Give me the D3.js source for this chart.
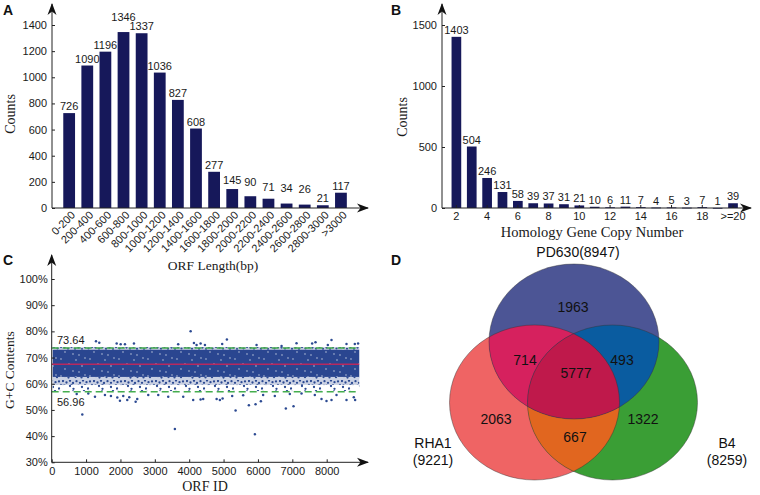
<!DOCTYPE html>
<html><head><meta charset="utf-8">
<script src="https://cdn.jsdelivr.net/npm/d3@7"></script>
<style>body{margin:0;background:#fff}svg{display:block}</style>
</head><body><svg id="c" width="760" height="495"></svg>
<script>
// ---------- DATA ----------
const orfCats = ["0-200","200-400","400-600","600-800","800-1000","1000-1200","1200-1400","1400-1600","1600-1800","1800-2000","2000-2200","2200-2400","2400-2600","2600-2800","2800-3000",">3000"];
const orfCounts = [726,1090,1196,1346,1337,1036,827,608,277,145,90,71,34,26,21,117];
const orfYTicks = [0,200,400,600,800,1000,1200,1400];

const copyCats = ["2","3","4","5","6","7","8","9","10","11","12","13","14","15","16","17","18","19",">=20"];
const copyCounts = [1403,504,246,131,58,39,37,31,21,10,6,11,7,4,5,3,7,1,39];
const copyXTicks = ["2","4","6","8","10","12","14","16","18",">=20"];
const copyYTicks = [0,500,1000,1500];

const gcYTicks = [30,40,50,60,70,80,90,100];
const gcXTicks = [0,1000,2000,3000,4000,5000,6000,7000,8000];
const orfTotal = 8947;
const gcUpper = 73.64, gcLower = 56.96, gcMean = 67.4;
// dense point cloud summarised as G+C bands [low, high, density]
const gcBands = [[57.2,59.6,"sparse"],[59.6,62.6,"medium"],[62.6,73.0,"dense"],[73.0,74.0,"medium"]];
// individual points outside the dense cloud [ORF id, G+C %]
const gcOutliers = [
 [4041,80.0],[1288,76.2],[1384,75.7],[1890,75.4],[2006,75.1],[2131,75.1],[2393,75.4],[3680,75.1],[4137,75.6],[4215,74.8],
 [4331,75.4],[4457,74.8],[4960,75.2],[5096,76.9],[5959,74.8],[6686,74.4],[7122,75.5],[7576,75.4],[7674,75.8],[8032,74.8],
 [8140,76.7],[8576,75.2],[8817,75.2],[8913,75.4],
 [727,56.1],[890,48.3],[1064,56.3],[1259,55.0],[1549,55.7],[1724,55.3],[1908,54.7],[1985,53.5],[2081,55.3],[2198,53.8],
 [2256,54.8],[2442,53.1],[2488,54.2],[2808,55.7],[3099,55.7],[3390,55.0],[3584,42.7],[3826,55.0],[4116,53.8],[4331,54.0],
 [4407,54.2],[4797,54.2],[4893,53.8],[4971,54.4],[5250,55.3],[5349,49.8],[5570,55.6],[5736,51.8],[5910,40.7],[5930,52.2],
 [6085,53.3],[6151,55.7],[6491,55.3],[6811,50.5],[6927,56.1],[7035,51.4],[7267,56.3],[7654,55.7],[7849,54.2],[7994,53.4],
 [8140,53.8],[8285,55.7],[8576,53.8],[8788,54.8],[8826,53.8]
];

const vennSets = [["PD630",8947],["RHA1",9221],["B4",8259]];
const vennRegions = [["P",1963],["PR",714],["PB",493],["PRB",5777],["R",2063],["B",1322],["RB",667]];

// ---------- DRAWING ----------
const svg = d3.select("#c");
const defs = svg.append("defs");
const SANS = "'Liberation Sans', Arial, sans-serif";
const SERIF = "'Liberation Serif', 'Times New Roman', serif";
const INK = "#1a1a1a";
const BAR = "#16185a";
const plain = d3.format("d");

defs.append("marker").attr("id","arr").attr("viewBox","0 -5 12 10")
  .attr("refX",11).attr("refY",0).attr("markerWidth",12).attr("markerHeight",10)
  .attr("markerUnits","userSpaceOnUse").attr("orient","auto")
  .append("path").attr("d","M0,-4.5L12,0L0,4.5L3.5,0Z").attr("fill","#111");

function arrowLine(x1,y1,x2,y2){
  svg.append("line").attr("x1",x1).attr("y1",y1).attr("x2",x2).attr("y2",y2)
    .attr("stroke","#222").attr("stroke-width",1).attr("marker-end","url(#arr)");
}
function styleAxis(g){
  g.select(".domain").remove();
  g.selectAll(".tick line").attr("stroke","#222");
  g.selectAll("text").attr("font-family",SANS).attr("font-size",11).attr("fill",INK);
}
function panelLetter(t,x,y){
  svg.append("text").attr("x",x).attr("y",y).text(t).attr("font-family",SANS)
    .attr("font-weight","bold").attr("font-size",14).attr("fill","#111");
}
function title(t,x,y,rot,size){
  const el = svg.append("text").text(t).attr("font-family",SERIF).attr("font-size",size||14)
    .attr("fill",INK).attr("text-anchor","middle");
  if(rot) el.attr("transform",`translate(${x},${y}) rotate(-90)`).attr("dy","0.35em");
  else el.attr("x",x).attr("y",y);
}

// ===== Panel A =====
(function(){
  const x0=52, y0=208;
  const x = d3.scaleBand().domain(orfCats).range([60.1,350]).paddingInner(0.35).paddingOuter(0.175);
  const y = d3.scaleLinear().domain([0,1400]).range([y0,25]);
  const g = svg.append("g");
  g.selectAll("rect").data(orfCounts).join("rect")
    .attr("x",(d,i)=>x(orfCats[i])).attr("width",x.bandwidth())
    .attr("y",d=>y(d)).attr("height",d=>y0-y(d)).attr("fill",BAR);
  const base = orfCounts.map(d=>y(d)-3);
  for(let i=1;i<base.length;i++){
    if(Math.abs(base[i]-base[i-1])<9){
      if(orfCounts[i]>orfCounts[i-1]) base[i]=base[i-1]-9.5; else base[i-1]=base[i]-9.5;
    }
  }
  g.selectAll("text.v").data(orfCounts).join("text").attr("class","v")
    .attr("x",(d,i)=>x(orfCats[i])+x.bandwidth()/2).attr("y",(d,i)=>base[i])
    .attr("text-anchor","middle").attr("font-family",SANS).attr("font-size",11).attr("fill",INK)
    .text(d=>d);
  const ya = svg.append("g").attr("transform",`translate(${x0},0)`)
    .call(d3.axisLeft(y).tickValues(orfYTicks).tickSize(-3).tickPadding(5).tickFormat(plain));
  styleAxis(ya);
  g.selectAll("text.c").data(orfCats).join("text").attr("class","c")
    .attr("transform",d=>`translate(${x(d)+x.bandwidth()/2+4},${y0+5}) rotate(-45)`)
    .attr("text-anchor","end").attr("dy","0.35em")
    .attr("font-family",SANS).attr("font-size",11).attr("fill",INK).text(d=>d);
  arrowLine(x0,y0,x0,4);
  arrowLine(x0,y0,368,y0);
  title("Counts",10,114,true,14);
  title("ORF Length(bp)",213,270,false,13.5);
  panelLetter("A",3,15);
})();

// ===== Panel B =====
(function(){
  const x0=442, y0=208;
  const x = d3.scaleBand().domain(copyCats).range([448.7,740.7]).paddingInner(0.37).paddingOuter(0.185);
  const y = d3.scaleLinear().domain([0,1500]).range([y0,25]);
  const g = svg.append("g");
  g.selectAll("rect").data(copyCounts).join("rect")
    .attr("x",(d,i)=>x(copyCats[i])).attr("width",x.bandwidth())
    .attr("y",d=>y(d)).attr("height",d=>Math.max(0.8,y0-y(d))).attr("fill",BAR);
  g.selectAll("text.v").data(copyCounts).join("text").attr("class","v")
    .attr("x",(d,i)=>x(copyCats[i])+x.bandwidth()/2).attr("y",d=>y(d)-3)
    .attr("text-anchor","middle").attr("font-family",SANS).attr("font-size",11).attr("fill",INK)
    .text(d=>d);
  const ya = svg.append("g").attr("transform",`translate(${x0},0)`)
    .call(d3.axisLeft(y).tickValues(copyYTicks).tickSize(-3).tickPadding(5).tickFormat(plain));
  styleAxis(ya);
  const xa = svg.append("g").attr("transform",`translate(0,${y0})`)
    .call(d3.axisBottom(x).tickValues(copyXTicks).tickSize(-3).tickPadding(4));
  styleAxis(xa);
  arrowLine(x0,y0,x0,4);
  arrowLine(x0,y0,751,y0);
  title("Counts",402,117,true,14);
  title("Homology Gene Copy Number",592,237,false,14.5);
  panelLetter("B",391,15);
})();

// ===== Panel C =====
(function(){
  const x0=51.7, y0=462.3;
  const x = d3.scaleLinear().domain([0,8000]).range([x0,326.7]);
  const y = d3.scaleLinear().domain([30,100]).range([y0,279]);
  const DOT = "#2c4a92";
  // texture patterns standing in for the thousands of overlapping points
  const pd = defs.append("pattern").attr("id","pDense").attr("patternUnits","userSpaceOnUse")
    .attr("width",29).attr("height",17);
  pd.append("rect").attr("width",29).attr("height",17).attr("fill","#2a4690");
  [[3,2],[11,7],[18,3],[7,12],[24,9],[15,14],[27,1],[21,15]].forEach(p=>pd.append("circle")
    .attr("cx",p[0]).attr("cy",p[1]).attr("r",0.65).attr("fill","#fff").attr("opacity",0.8));
  const pm = defs.append("pattern").attr("id","pMedium").attr("patternUnits","userSpaceOnUse")
    .attr("width",31).attr("height",19);
  pm.append("rect").attr("width",31).attr("height",19).attr("fill","#2a4690").attr("opacity",0.25);
  [[1,1],[4.5,2.5],[8,0.8],[11,3],[14.5,1.2],[18,2.8],[21,0.6],[24.5,2.2],[28,1.4],
   [2.5,5.5],[6,6.8],[9.5,5],[13,7],[16.5,5.6],[20,7.2],[23,5.2],[26.5,6.6],[30,5],
   [1,10],[4,11.5],[7.5,9.6],[11,11.2],[14,9.4],[17.5,11.6],[21,9.8],[24,11],[27.5,9.5],
   [3,15],[6.5,16.5],[10,14.4],[13.5,16],[16,14.2],[19.5,16.4],[23,14.6],[26,16.2],[29.5,14.8]]
    .forEach(p=>pm.append("circle").attr("cx",p[0]).attr("cy",p[1]).attr("r",1.15).attr("fill",DOT));
  const ps = defs.append("pattern").attr("id","pSparse").attr("patternUnits","userSpaceOnUse")
    .attr("width",29).attr("height",15);
  [[2,2],[9,4.5],[15,1.5],[21,3.5],[26,1],[5,9],[12,11],[18,8],[24,12],[1,13.5],[28,8.5],[15.5,13.8]]
    .forEach(p=>ps.append("circle").attr("cx",p[0]).attr("cy",p[1]).attr("r",1.15).attr("fill",DOT));
  const pat = {dense:"url(#pDense)",medium:"url(#pMedium)",sparse:"url(#pSparse)"};
  svg.append("g").selectAll("rect").data(gcBands).join("rect")
    .attr("x",x(0)+1).attr("width",x(orfTotal)-x(0)-1)
    .attr("y",d=>y(d[1])).attr("height",d=>y(d[0])-y(d[1])).attr("fill",d=>pat[d[2]]);
  svg.append("g").selectAll("circle").data(gcOutliers).join("circle")
    .attr("cx",d=>x(d[0])).attr("cy",d=>y(d[1])).attr("r",1.25).attr("fill",DOT);
  svg.append("line").attr("x1",x(0)).attr("x2",x(orfTotal)).attr("y1",y(gcMean)).attr("y2",y(gcMean))
    .attr("stroke","#b8285e").attr("stroke-width",1.5);
  [gcUpper,gcLower].forEach(v=>svg.append("line").attr("x1",x(0)).attr("x2",x(orfTotal))
    .attr("y1",y(v)).attr("y2",y(v)).attr("stroke","#45ad4e").attr("stroke-width",1.6)
    .attr("stroke-dasharray","7,4"));
  svg.append("text").attr("x",57).attr("y",y(gcUpper)-4).text(gcUpper.toFixed(2))
    .attr("font-family",SANS).attr("font-size",11).attr("fill",INK);
  svg.append("text").attr("x",57).attr("y",y(gcLower)+14).text(gcLower.toFixed(2))
    .attr("font-family",SANS).attr("font-size",11).attr("fill",INK);
  const ya = svg.append("g").attr("transform",`translate(${x0},0)`)
    .call(d3.axisLeft(y).tickValues(gcYTicks).tickSize(-3).tickPadding(4).tickFormat(d=>d+"%"));
  styleAxis(ya);
  const xa = svg.append("g").attr("transform",`translate(0,${y0})`)
    .call(d3.axisBottom(x).tickValues(gcXTicks).tickSize(-3).tickPadding(5).tickFormat(plain));
  styleAxis(xa);
  arrowLine(x0,y0,x0,255);
  arrowLine(x0,y0,368,y0);
  title("G+C Contents",9,370,true,13.5);
  title("ORF ID",205,491,false,14);
  panelLetter("C",3,265);
})();

// ===== Panel D (Venn) =====
(function(){
  const rx=85, ry=77.5;
  const C = {P:[574,341.5], R:[534.5,402.5], B:[612.5,402.5]};
  ["P","R","B"].forEach(k=>defs.append("clipPath").attr("id","clip"+k)
    .append("ellipse").attr("cx",C[k][0]).attr("cy",C[k][1]).attr("rx",rx).attr("ry",ry));
  const g = svg.append("g");
  const ell = (parent,k,fill)=>parent.append("ellipse").attr("cx",C[k][0]).attr("cy",C[k][1])
    .attr("rx",rx).attr("ry",ry).attr("fill",fill);
  ell(g,"R","#ef6464");
  ell(g,"B","#3a9e35");
  ell(g,"P","#4c5595");
  ell(g.append("g").attr("clip-path","url(#clipR)"),"B","#e1661f");
  ell(g.append("g").attr("clip-path","url(#clipP)"),"R","#d6215e");
  ell(g.append("g").attr("clip-path","url(#clipP)"),"B","#0a5ca0");
  ell(g.append("g").attr("clip-path","url(#clipP)").append("g").attr("clip-path","url(#clipB)"),"R","#bf194b");
  ["R","B","P"].forEach(k=>g.append("ellipse").attr("cx",C[k][0]).attr("cy",C[k][1])
    .attr("rx",rx).attr("ry",ry).attr("fill","none").attr("stroke","#333").attr("stroke-opacity",0.55).attr("stroke-width",0.8));
  const regionPos = {P:[573,312],PR:[525,365],PB:[622,365],PRB:[576,378],R:[496,424],B:[643,424],RB:[575,442]};
  g.selectAll("text.r").data(vennRegions).join("text").attr("class","r")
    .attr("x",d=>regionPos[d[0]][0]).attr("y",d=>regionPos[d[0]][1]).attr("text-anchor","middle")
    .attr("font-family",SANS).attr("font-size",14).attr("fill","#111").text(d=>d[1]);
  const T = (t,x,y)=>svg.append("text").attr("x",x).attr("y",y).attr("text-anchor","middle")
    .attr("font-family",SANS).attr("font-size",14).attr("fill","#111").text(t);
  T(`${vennSets[0][0]}(${vennSets[0][1]})`,578,257);
  T(vennSets[1][0],433,448); T(`(${vennSets[1][1]})`,433,465);
  T(vennSets[2][0],727,448); T(`(${vennSets[2][1]})`,727,465);
  panelLetter("D",391,265);
})();
</script></body></html>
